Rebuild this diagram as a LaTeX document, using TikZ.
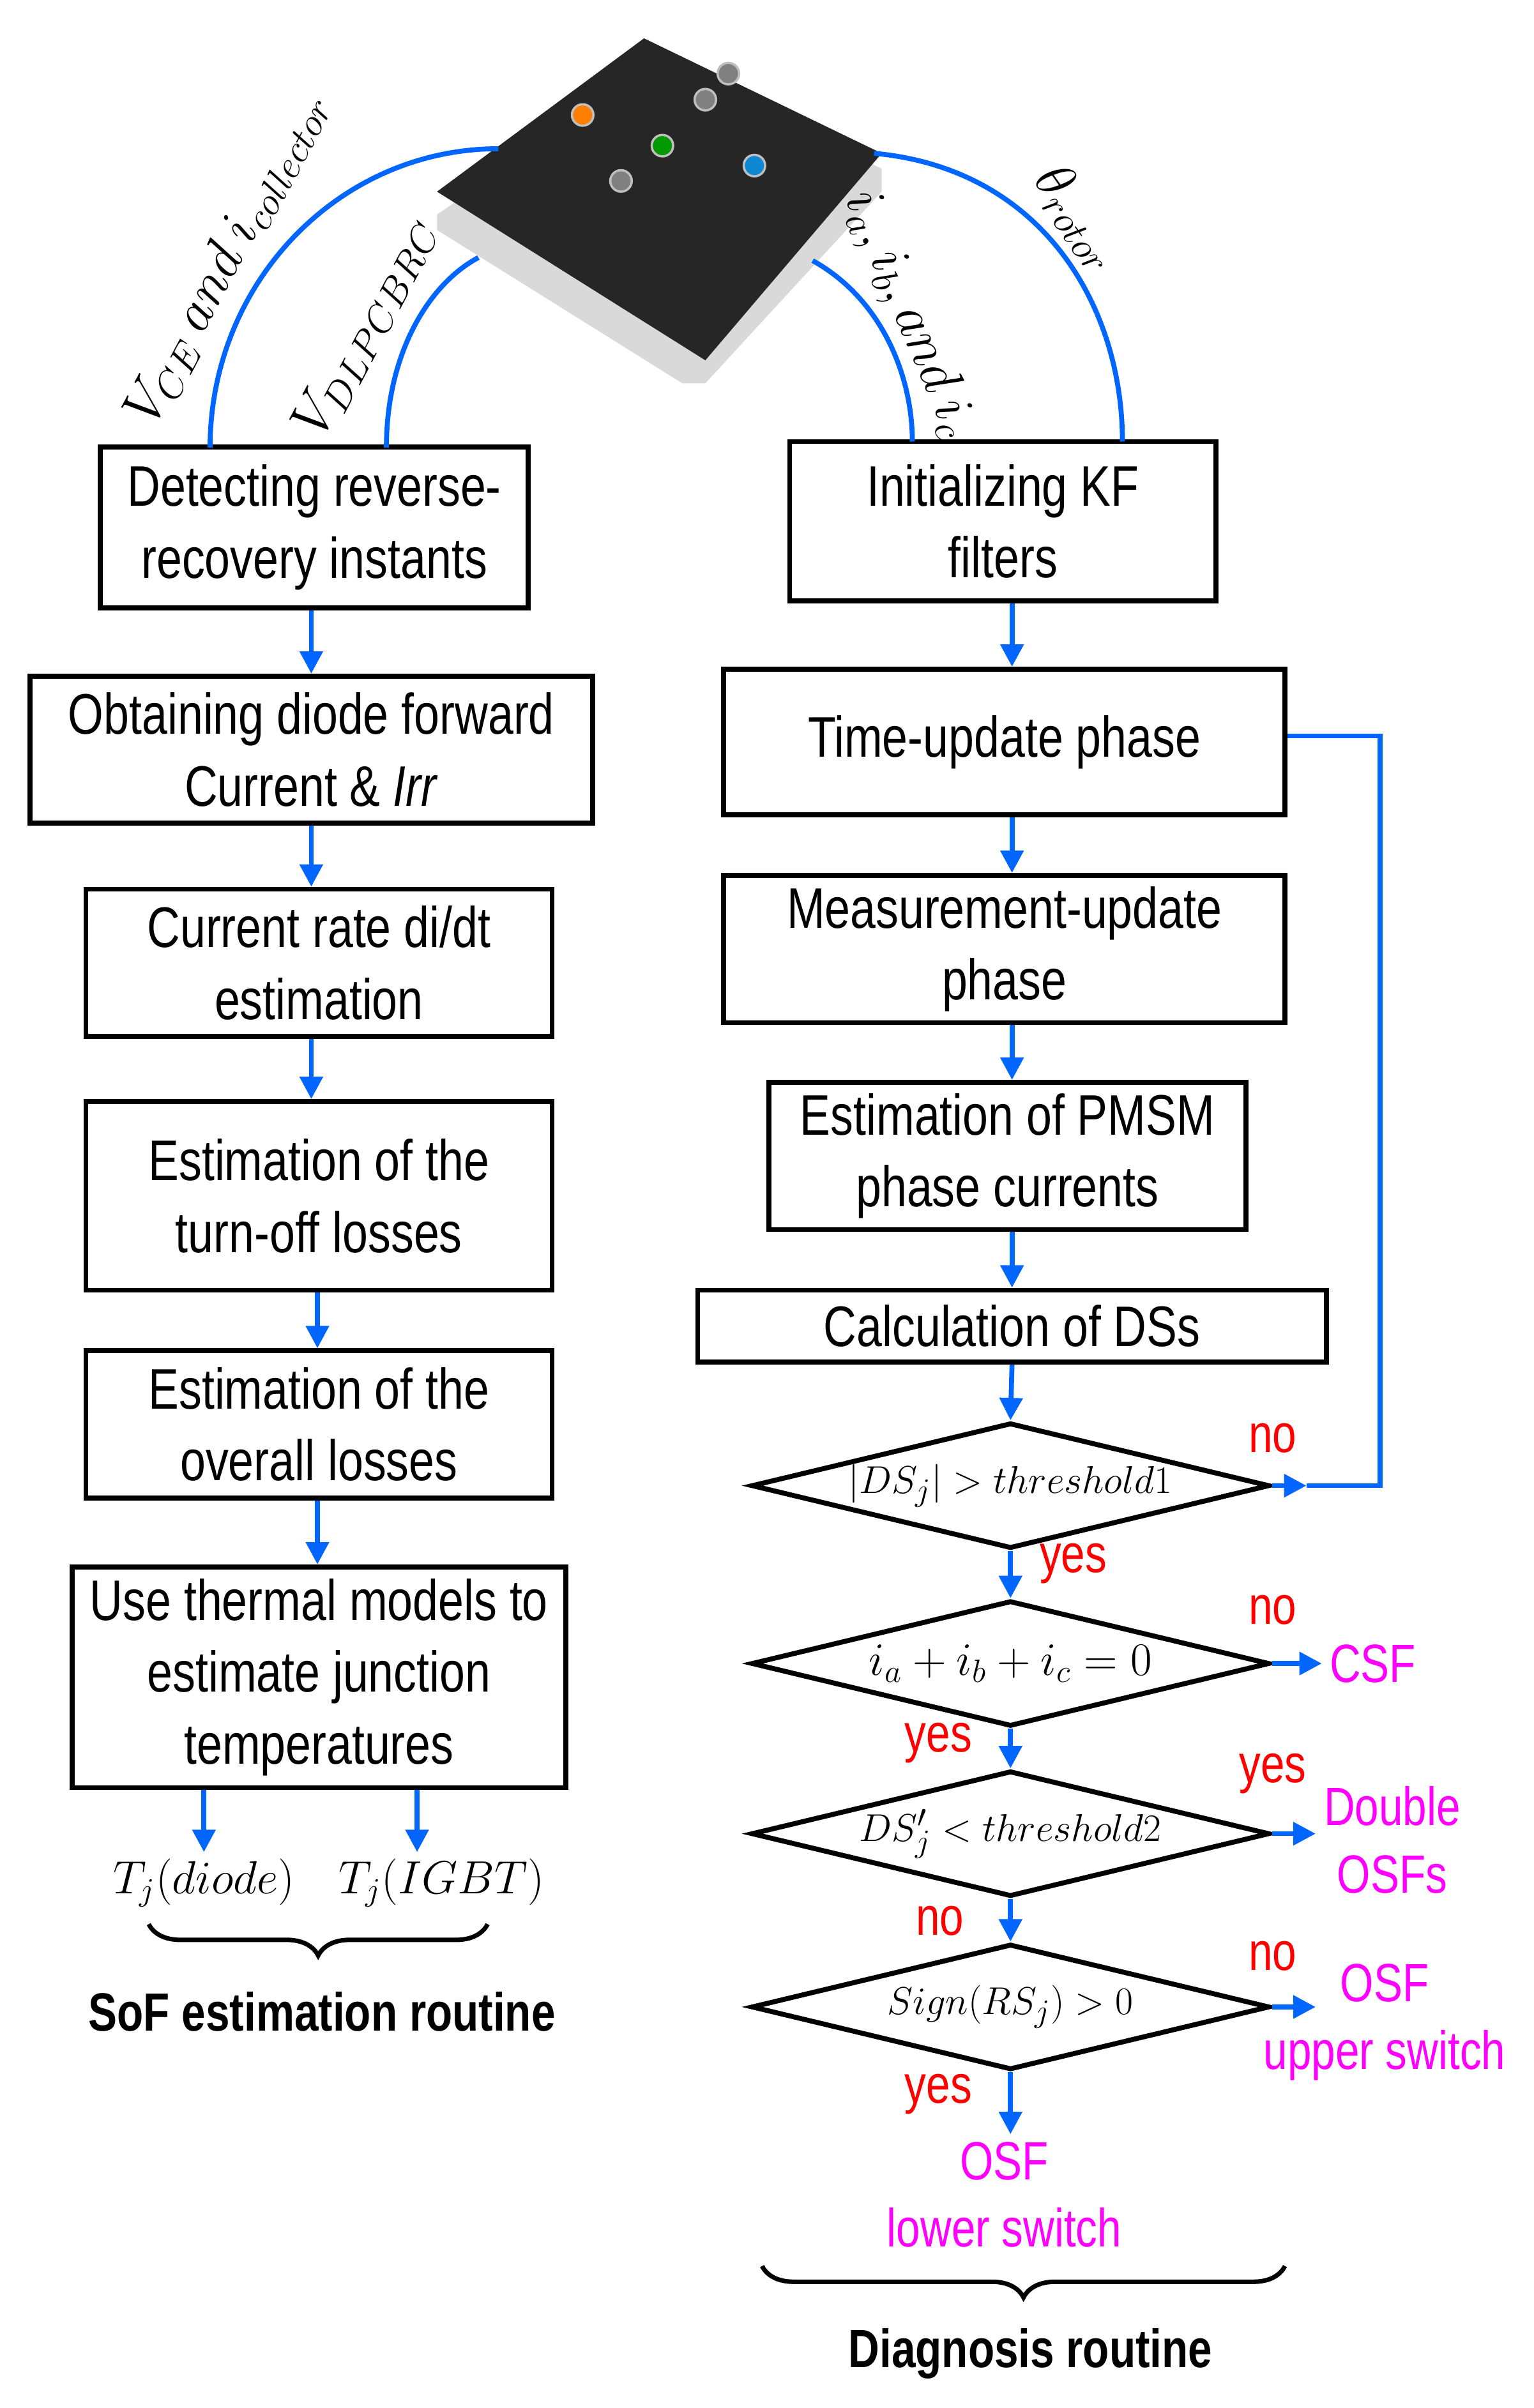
\documentclass[tikz,border=0pt]{standalone}
\usepackage{fontspec}
\setmainfont{Liberation Sans}[FakeStretch=0.8]
\usetikzlibrary{shapes.geometric,arrows.meta,decorations.pathreplacing}
\definecolor{blu}{RGB}{0,102,255}
\definecolor{mag}{RGB}{255,0,255}
\begin{document}
\begin{tikzpicture}[x=0.02401cm,y=-0.02401cm,
 box/.style={draw,line width=2.2pt,align=center,font=\fontsize{25.5}{32}\selectfont,inner sep=0},
 dia/.style={draw,diamond,aspect=4.2,line width=2.2pt,inner sep=0,font=\fontsize{19}{22}\selectfont},
 ar/.style={draw=blu,line width=2.2pt,-{Triangle[length=10pt,width=10pt]}},
 ln/.style={draw=blu,line width=2.2pt},
 lab/.style={font=\fontsize{24}{30}\selectfont},
 red/.style={lab,text=red},
 mg/.style={lab,text=mag,align=center}]
\useasboundingbox (0,0) rectangle (1000,1570.6);
% device
\fill[gray!30] (285,140) -- (430,40) -- (575,110) -- (575,125) -- (460,250) -- (445,250) -- (285,150) -- cycle;
\fill[black!85] (285,125) -- (420,25) -- (575,100) -- (460,235) -- cycle;
\foreach \p/\c in {{(380,75)/orange},{(460,65)/gray},{(475,48)/gray},{(432,95)/green!60!black},{(405,118)/gray},{(492,108)/cyan!70!blue}}
  \filldraw[fill=\c,draw=gray!50,line width=1pt] \p circle (7);
% left boxes
\node[box,minimum width=279*0.02401cm,minimum height=105*0.02401cm] (A) at (205,344) {Detecting reverse-\\recovery instants};
\node[box,minimum width=367*0.02401cm,minimum height=96*0.02401cm] (B) at (203,489) {Obtaining diode forward\\Current \& \textit{Irr}};
\node[box,minimum width=304*0.02401cm,minimum height=96*0.02401cm] (C) at (208,628) {Current rate di/dt\\estimation};
\node[box,minimum width=304*0.02401cm,minimum height=123*0.02401cm] (D) at (208,780) {Estimation of the\\turn-off losses};
\node[box,minimum width=304*0.02401cm,minimum height=96*0.02401cm] (E) at (208,929) {Estimation of the\\overall losses};
\node[box,minimum width=322*0.02401cm,minimum height=144*0.02401cm] (F) at (208,1094) {Use thermal models to\\estimate junction\\temperatures};
\draw[ar] (A.south-|203,0) -- (B.north-|203,0);
\draw[ar] (B.south-|203,0) -- (C.north-|203,0);
\draw[ar] (C.south-|203,0) -- (D.north-|203,0);
\draw[ar] (D.south-|207,0) -- (E.north-|207,0);
\draw[ar] (E.south-|207,0) -- (F.north-|207,0);
\node[font=\fontsize{20}{24}\selectfont] (T1) at (133,1228) {$T_j(diode)$};
\node[font=\fontsize{20}{24}\selectfont] (T2) at (288,1228) {$T_j(IGBT)$};
\draw[ar] (F.south-|133,0) -- (133,1208);
\draw[ar] (F.south-|272,0) -- (272,1208);
\draw[line width=2pt,decorate,decoration={brace,mirror,amplitude=14pt}] (97,1255) -- (318,1255);
\node[lab,font=\fontsize{24}{28}\selectfont\bfseries] (S) at (210,1312) {SoF estimation routine};
% right
\node[box,minimum width=278*0.02401cm,minimum height=104*0.02401cm] (G) at (654,340) {Initializing KF\\filters};
\node[box,minimum width=366*0.02401cm,minimum height=95*0.02401cm] (H) at (655,484) {Time-update phase};
\node[box,minimum width=366*0.02401cm,minimum height=96*0.02401cm] (I) at (655,619) {Measurement-update\\phase};
\node[box,minimum width=311*0.02401cm,minimum height=96*0.02401cm] (J) at (657,754) {Estimation of PMSM\\phase currents};
\node[box,minimum width=410*0.02401cm,minimum height=47*0.02401cm] (K) at (660,865) {Calculation of DSs};
\node[dia,minimum width=338*0.02401cm,minimum height=82*0.02401cm] (D1) at (659,969) {$|DS_j|>threshold1$};
\node[dia,minimum width=338*0.02401cm,minimum height=82*0.02401cm] (D2) at (659,1085) {\fontsize{21}{24}\selectfont$i_a+i_b+i_c=0$};
\node[dia,minimum width=338*0.02401cm,minimum height=82*0.02401cm] (D3) at (659,1196) {$DS'_j<threshold2$};
\node[dia,minimum width=338*0.02401cm,minimum height=82*0.02401cm] (D4) at (659,1309) {$Sign(RS_j)>0$};
\draw[ar] (G.south-|660,0) -- (H.north-|660,0);
\draw[ar] (H.south-|660,0) -- (I.north-|660,0);
\draw[ar] (I.south-|660,0) -- (J.north-|660,0);
\draw[ar] (J.south-|660,0) -- (K.north-|660,0);
\draw[ar] (K.south-|660,0) -- (D1.north);
\draw[ar] (D1.south) -- (D2.north);
\draw[ar] (D2.south) -- (D3.north);
\draw[ar] (D3.south) -- (D4.north);
\coordinate (fb) at (852,969);
\draw[ar] (D1.east) -- (fb);
\draw[ln] (fb) -- (900,969) -- (900,480) -- (H.east|-0,480);
\node[mg,anchor=west] (CSF) at (862,1085) {CSF};
\draw[ar] (D2.east) -- (CSF.west);
\node[mg] (DO) at (908,1200) {Double\\OSFs};
\draw[ar] (D3.east) -- (858,1196);
\node[mg] (OU) at (903,1319) {OSF\\upper switch};
\draw[ar] (D4.east) -- (858,1309);
\node[mg,anchor=north] (OL) at (655,1392) {OSF\\lower switch};
\draw[ar] (D4.south) -- (D4.south|-OL.north);
\node[red] at (830,938) {no};
\node[red] at (700,1020) {yes};
\node[red] at (830,1050) {no};
\node[red] at (612,1137) {yes};
\node[red] at (830,1157) {yes};
\node[red] at (613,1253) {no};
\node[red] at (830,1276) {no};
\node[red] at (612,1366) {yes};
\draw[line width=2pt,decorate,decoration={brace,mirror,amplitude=14pt}] (497,1478) -- (838,1478);
\node[lab,font=\fontsize{24}{28}\selectfont\bfseries] (DR) at (672,1535) {Diagnosis routine};
% arcs
\draw[ln] (137,292) arc (180:270:188 and 195);
\draw[ln] (252,292) .. controls (252,230) and (280,185) .. (312,168);
\draw[ln] (570,100) .. controls (680,110) and (732,200) .. (732,288);
\draw[ln] (530,170) .. controls (575,195) and (595,245) .. (595,288);
\node[rotate=62,font=\fontsize{24}{28}\selectfont] at (148,168) {$V_{CE}\ and\ i_{collector}$};
\node[rotate=62,font=\fontsize{24}{28}\selectfont] at (238,213) {$V_{DLPCBRC}$};
\node[rotate=-67,font=\fontsize{24}{28}\selectfont] at (593,205) {$i_a,i_b,and\ i_c$};
\node[rotate=-55,font=\fontsize{24}{28}\selectfont] at (703,142) {$\theta_{rotor}$};
\end{tikzpicture}
\end{document}
